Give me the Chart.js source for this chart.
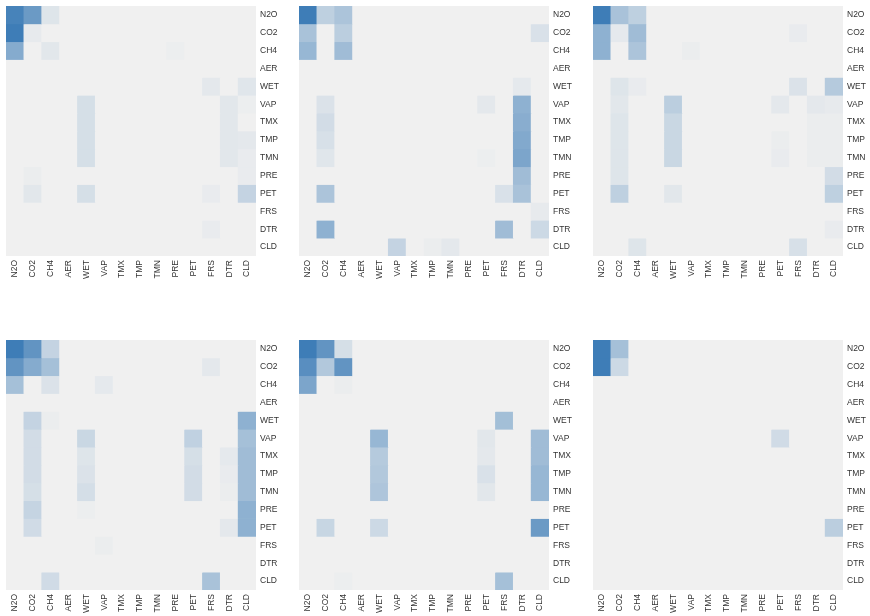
<!DOCTYPE html>
<html>
<head>
<meta charset="utf-8">
<script src="https://cdn.jsdelivr.net/npm/chart.js@4/dist/chart.umd.min.js"></script>
<style>
  html, body { margin: 0; padding: 0; background: #fff; overflow: hidden; }
  body { width: 870px; height: 616px; position: relative; }
  .panel { position: absolute; }
</style>
</head>
<body>
<div id="wrap"></div>
<script>
/* ── Data ── */
const vars = ["N2O","CO2","CH4","AER","WET","VAP","TMX","TMP","TMN","PRE","PET","FRS","DTR","CLD"];

// rows = vars (top to bottom), columns = vars (left to right), values 0..1
const panelA = [
  [.95,.75,.10,0,0,0,0,0,0,0,0,0,0,0],
  [1,.05,0,0,0,0,0,0,0,0,0,0,0,0],
  [.60,0,.08,0,0,0,0,0,0,.02,0,0,0,0],
  [0,0,0,0,0,0,0,0,0,0,0,0,0,0],
  [0,0,0,0,0,0,0,0,0,0,0,.07,0,.09],
  [0,0,0,0,.15,0,0,0,0,0,0,0,.08,.02],
  [0,0,0,0,.15,0,0,0,0,0,0,0,.08,0],
  [0,0,0,0,.15,0,0,0,0,0,0,0,.08,.07],
  [0,0,0,0,.15,0,0,0,0,0,0,0,.08,.04],
  [0,.03,0,0,0,0,0,0,0,0,0,0,0,.04],
  [0,.08,0,0,.15,0,0,0,0,0,0,.04,0,.25],
  [0,0,0,0,0,0,0,0,0,0,0,0,0,0],
  [0,0,0,0,0,0,0,0,0,0,0,.04,0,0],
  [0,0,0,0,0,0,0,0,0,0,0,0,0,0],
];
const panelB = [
  [1,.28,.38,0,0,0,0,0,0,0,0,0,0,0],
  [.40,0,.30,0,0,0,0,0,0,0,0,0,0,.13],
  [.50,0,.45,0,0,0,0,0,0,0,0,0,0,0],
  [0,0,0,0,0,0,0,0,0,0,0,0,0,0],
  [0,0,0,0,0,0,0,0,0,0,0,0,.06,0],
  [0,.12,0,0,0,0,0,0,0,0,.07,0,.55,0],
  [0,.17,0,0,0,0,0,0,0,0,0,0,.58,0],
  [0,.14,0,0,0,0,0,0,0,0,0,0,.62,0],
  [0,.09,0,0,0,0,0,0,0,0,.02,0,.65,0],
  [0,0,0,0,0,0,0,0,0,0,0,0,.45,0],
  [0,.38,0,0,0,0,0,0,0,0,0,.13,.40,0],
  [0,0,0,0,0,0,0,0,0,0,0,0,0,.05],
  [0,.55,0,0,0,0,0,0,0,0,0,.45,0,.20],
  [0,0,0,0,0,.25,0,.03,.07,0,0,0,0,0],
];
const panelC = [
  [1,.40,.28,0,0,0,0,0,0,0,0,0,0,0],
  [.55,.06,.45,0,0,0,0,0,0,0,0,.04,0,0],
  [.55,0,.38,0,0,.03,0,0,0,0,0,0,0,0],
  [0,0,0,0,0,0,0,0,0,0,0,0,0,0],
  [0,.10,.04,0,0,0,0,0,0,0,0,.12,0,.33],
  [0,.08,0,0,.30,0,0,0,0,0,.07,0,.07,.05],
  [0,.10,0,0,.22,0,0,0,0,0,0,0,.03,.03],
  [0,.10,0,0,.22,0,0,0,0,0,.03,0,.03,.03],
  [0,.10,0,0,.22,0,0,0,0,0,.04,0,.03,.03],
  [0,.10,0,0,0,0,0,0,0,0,0,0,0,.17],
  [0,.28,0,0,.08,0,0,0,0,0,0,0,0,.28],
  [0,0,0,0,0,0,0,0,0,0,0,0,0,0],
  [0,0,0,0,0,0,0,0,0,0,0,0,0,.04],
  [0,0,.10,0,0,0,0,0,0,0,0,.14,0,0],
];
const panelD = [
  [1,.80,.25,0,0,0,0,0,0,0,0,0,0,0],
  [.80,.60,.42,0,0,0,0,0,0,0,0,.07,0,0],
  [.42,0,.12,0,0,.06,0,0,0,0,0,0,0,0],
  [0,0,0,0,0,0,0,0,0,0,0,0,0,0],
  [0,.25,.03,0,0,0,0,0,0,0,0,0,0,.55],
  [0,.17,0,0,.22,0,0,0,0,0,.27,0,0,.42],
  [0,.17,0,0,.10,0,0,0,0,0,.15,0,.06,.45],
  [0,.17,0,0,.12,0,0,0,0,0,.17,0,.04,.45],
  [0,.15,0,0,.16,0,0,0,0,0,.17,0,.03,.45],
  [0,.24,0,0,.02,0,0,0,0,0,0,0,0,.55],
  [0,.18,0,0,0,0,0,0,0,0,0,0,.07,.55],
  [0,0,0,0,0,.03,0,0,0,0,0,0,0,0],
  [0,0,0,0,0,0,0,0,0,0,0,0,0,0],
  [0,0,.18,0,0,0,0,0,0,0,0,.40,0,0],
];
const panelE = [
  [1,.80,.15,0,0,0,0,0,0,0,0,0,0,0],
  [.85,.35,.80,0,0,0,0,0,0,0,0,0,0,0],
  [.65,0,.03,0,0,0,0,0,0,0,0,0,0,0],
  [0,0,0,0,0,0,0,0,0,0,0,0,0,0],
  [0,0,0,0,0,0,0,0,0,0,0,.43,0,0],
  [0,0,0,0,.50,0,0,0,0,0,.08,0,0,.45],
  [0,0,0,0,.33,0,0,0,0,0,.07,0,0,.45],
  [0,0,0,0,.35,0,0,0,0,0,.13,0,0,.50],
  [0,0,0,0,.37,0,0,0,0,0,.08,0,0,.50],
  [0,0,0,0,0,0,0,0,0,0,0,0,0,0],
  [0,.23,0,0,.20,0,0,0,0,0,0,0,0,.75],
  [0,0,0,0,0,0,0,0,0,0,0,0,0,0],
  [0,0,0,0,0,0,0,0,0,0,0,0,0,0],
  [0,0,.02,0,0,0,0,0,0,0,0,.42,0,0],
];
const panelF = [
  [1,.42,0,0,0,0,0,0,0,0,0,0,0,0],
  [1,.20,0,0,0,0,0,0,0,0,0,0,0,0],
  [0,0,0,0,0,0,0,0,0,0,0,0,0,0],
  [0,0,0,0,0,0,0,0,0,0,0,0,0,0],
  [0,0,0,0,0,0,0,0,0,0,0,0,0,0],
  [0,0,0,0,0,0,0,0,0,0,.18,0,0,0],
  [0,0,0,0,0,0,0,0,0,0,0,0,0,0],
  [0,0,0,0,0,0,0,0,0,0,0,0,0,0],
  [0,0,0,0,0,0,0,0,0,0,0,0,0,0],
  [0,0,0,0,0,0,0,0,0,0,0,0,0,0],
  [0,0,0,0,0,0,0,0,0,0,0,0,0,.30],
  [0,0,0,0,0,0,0,0,0,0,0,0,0,0],
  [0,0,0,0,0,0,0,0,0,0,0,0,0,0],
  [0,0,0,0,0,0,0,0,0,0,0,0,0,0],
];

/* ── Layout ── */
const PANELS = [
  { m: panelA, left: 6,   top: 6,   bottom: 40 },
  { m: panelB, left: 299, top: 6,   bottom: 40 },
  { m: panelC, left: 593, top: 6,   bottom: 40 },
  { m: panelD, left: 6,   top: 340, bottom: 26 },
  { m: panelE, left: 299, top: 340, bottom: 26 },
  { m: panelF, left: 593, top: 340, bottom: 26 },
];
const CELL_AREA = 250;
const RIGHT_W   = 32;
const LOW  = [240, 240, 240];
const HIGH = [62, 125, 183];
const FONT = { family: "'Liberation Sans', Arial, sans-serif", size: 8.5 };

function colorFor(v) {
  const c = LOW.map((l, k) => Math.round(l + (HIGH[k] - l) * v));
  return `rgb(${c[0]},${c[1]},${c[2]})`;
}

const areaBg = {
  id: "areaBg",
  beforeDatasetsDraw(chart) {
    const { ctx, chartArea: a } = chart;
    ctx.save();
    ctx.fillStyle = "#f0f0f0";
    ctx.fillRect(a.left, a.top, a.right - a.left, a.bottom - a.top);
    ctx.restore();
  }
};

function noPad(s) {
  s.paddingTop = 0; s.paddingBottom = 0; s.paddingLeft = 0; s.paddingRight = 0;
}

/* ── Build ── */
const wrap = document.getElementById("wrap");
PANELS.forEach(p => {
  const div = document.createElement("div");
  div.className = "panel";
  div.style.left = p.left + "px";
  div.style.top  = p.top + "px";
  const cv = document.createElement("canvas");
  cv.width  = CELL_AREA + RIGHT_W;
  cv.height = CELL_AREA + p.bottom;
  cv.style.width  = cv.width + "px";
  cv.style.height = cv.height + "px";
  div.appendChild(cv);
  wrap.appendChild(div);

  new Chart(cv.getContext("2d"), {
    type: "bar",
    data: {
      labels: vars,
      datasets: vars.map((r, i) => ({
        label: r,
        data: vars.map(() => 1),
        backgroundColor: p.m[i].map(colorFor),
        borderWidth: 0,
        barPercentage: 1,
        categoryPercentage: 1,
      }))
    },
    options: {
      responsive: false,
      animation: false,
      layout: { padding: 0 },
      plugins: { legend: { display: false }, tooltip: { enabled: false } },
      scales: {
        x: {
          stacked: true,
          grid: { display: false, drawTicks: false },
          border: { display: false },
          ticks: { autoSkip: false, minRotation: 90, maxRotation: 90, padding: 4, font: FONT, color: "#333" },
          afterFit: s => { s.height = p.bottom; noPad(s); }
        },
        y: { stacked: true, min: 0, max: 14, reverse: true, display: false },
        rows: {
          type: "category",
          labels: vars,
          position: "right",
          offset: true,
          grid: { display: false, drawTicks: false },
          border: { display: false },
          ticks: { autoSkip: false, padding: 4, font: FONT, color: "#333" },
          afterFit: s => { s.width = RIGHT_W; noPad(s); }
        }
      }
    },
    plugins: [areaBg]
  });
});
</script>
</body>
</html>
